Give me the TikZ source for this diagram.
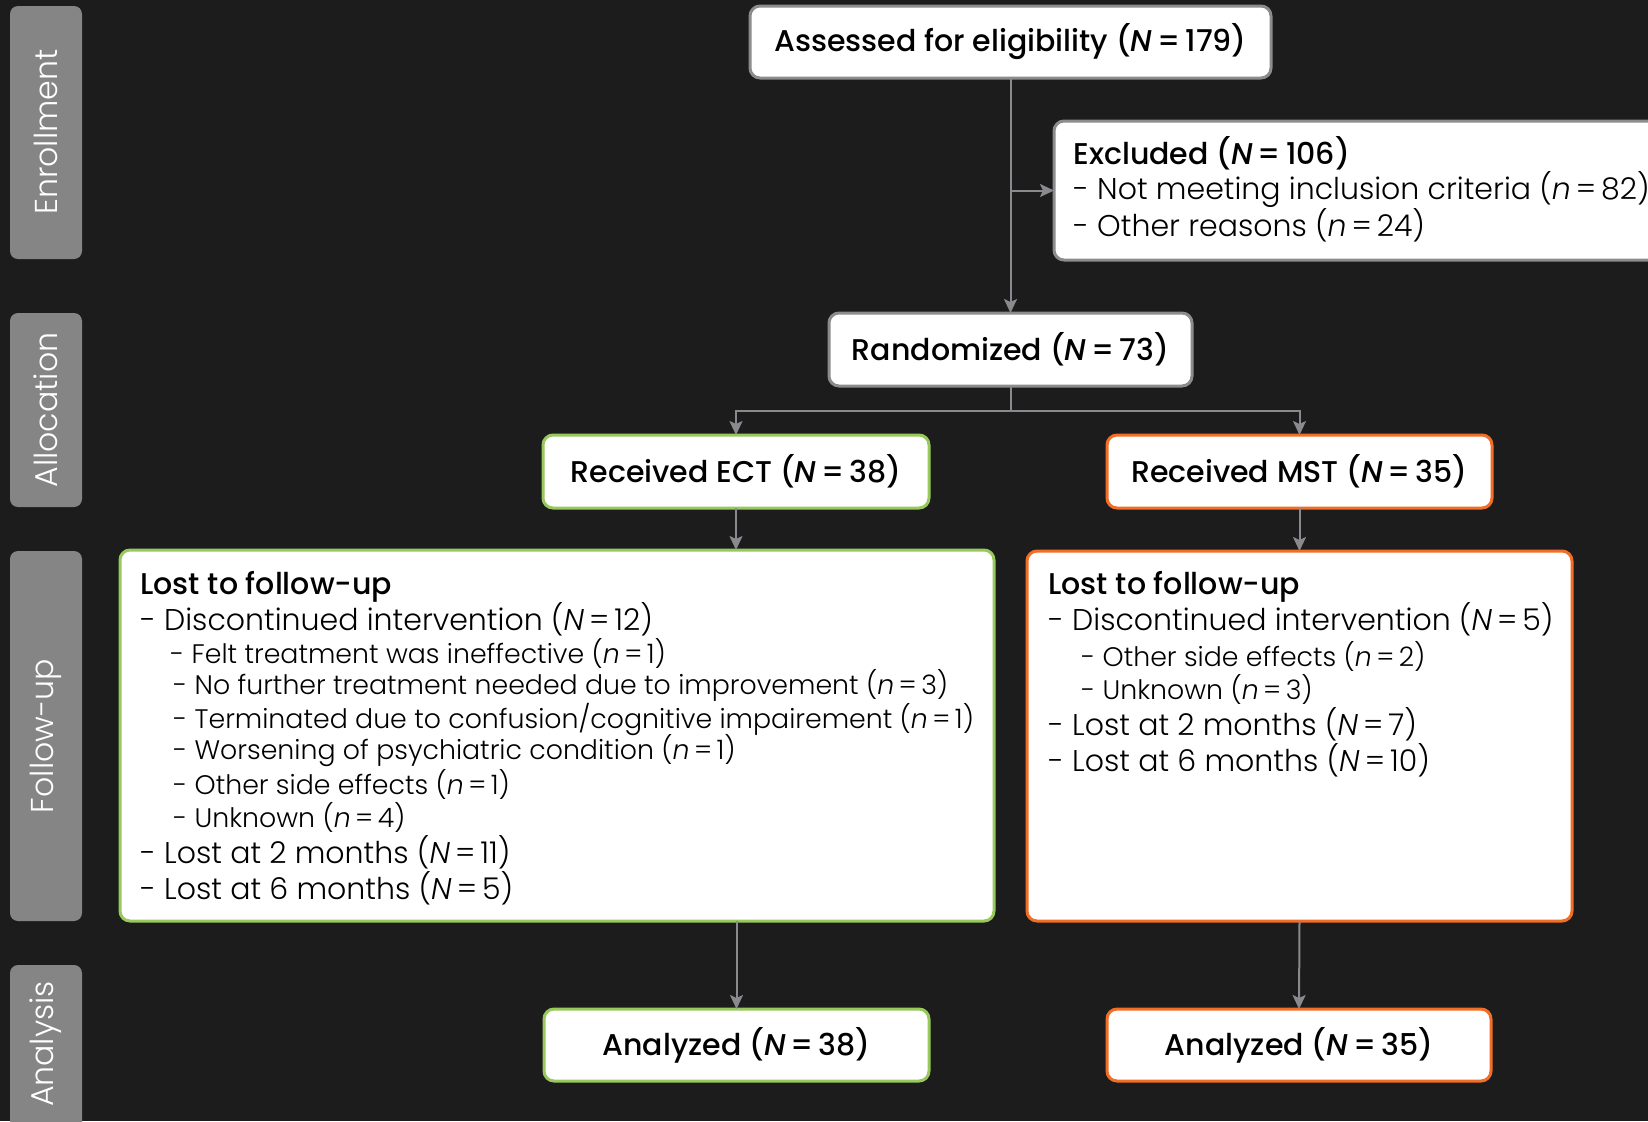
\documentclass[tikz,border=0pt]{standalone}
\usepackage{fontspec}
\setmainfont{Poppins}[UprightFont=* Light, BoldFont=* Medium, ItalicFont=* Light Italic, BoldItalicFont=* Medium Italic]
\usetikzlibrary{arrows.meta}
\definecolor{bg}{HTML}{1C1C1C}
\definecolor{bar}{HTML}{858585}
\definecolor{conn}{HTML}{8A8A8E}
\definecolor{greyline}{HTML}{8C8C8C}
\definecolor{ectgreen}{HTML}{98C95C}
\definecolor{mstorange}{HTML}{F26D25}
\newcommand{\NN}[1]{(\textit{N}\,=\,#1)}
\newcommand{\nn}[1]{(\textit{n}\,=\,#1)}
\tikzset{
  boxbase/.style={draw, fill=white, rounded corners=5pt, line width=1.5pt, inner sep=0pt, outer sep=0pt, text=black},
  greybox/.style={boxbase, draw=greyline},
  greenbox/.style={boxbase, draw=ectgreen},
  orangebox/.style={boxbase, draw=mstorange},
  headfont/.style={font=\fontsize{15}{17}\selectfont\bfseries},
  txt/.style={anchor=west, inner sep=0pt, text=black, font=\fontsize{15}{17}\selectfont},
  subtxt/.style={anchor=west, inner sep=0pt, text=black, font=\fontsize{13.4}{16}\selectfont},
  bold/.style={anchor=west, inner sep=0pt, text=black, font=\fontsize{15}{17}\selectfont\bfseries},
  sidebar/.style={fill=bar, rounded corners=4pt, inner sep=0pt, outer sep=0pt},
  sidetext/.style={rotate=90, text=white, inner sep=0pt, font=\fontsize{15.8}{18}\selectfont},
  conline/.style={draw=conn, line width=1pt},
  arr/.style={conline, -{Stealth[length=7pt, width=6.5pt, inset=1.5pt]}},
}
\begin{document}
\begin{tikzpicture}[x=0.5pt, y=-0.5pt]
\fill[bg] (0,0) rectangle (1648,1121);
\useasboundingbox (0,0) rectangle (1648,1121);
\clip (0,0) rectangle (1648,1121);

% side bars
\node[sidebar, minimum width=36pt, minimum height=126.5pt] (enrbar) at (46,132.5) {};
\node[sidetext] (enrtxt) at (46,132) {Enrollment};
\node[sidebar, minimum width=36pt, minimum height=97pt] (allbar) at (46,410) {};
\node[sidetext] (alltxt) at (46,410) {Allocation};
\node[sidebar, minimum width=36pt, minimum height=185pt] (fubar) at (46,736) {};
\node[sidetext] (futxt) at (46,736) {Follow-up};
\node[sidebar, minimum width=36pt, minimum height=90pt] (anbar) at (46,1055) {};
\node[sidetext] (antxt) at (46,1044) {Analysis};

% main boxes
\node[greybox, headfont, minimum width=260.5pt, minimum height=36pt] (assess) at (1010.5,42) {Assessed for eligibility \NN{179}};
\node[greybox, minimum width=323pt, minimum height=69.5pt] (excl) at (1377,190.5) {};
\node[greybox, headfont, minimum width=181.5pt, minimum height=36.5pt] (rand) at (1010.5,349.5) {Randomized \NN{73}};
\node[greenbox, headfont, minimum width=193pt, minimum height=36.5pt] (ect) at (736,471.5) {Received ECT \NN{38}};
\node[orangebox, headfont, minimum width=192.5pt, minimum height=36.5pt] (mst) at (1299.5,471.5) {Received MST \NN{35}};
\node[greenbox, minimum width=437pt, minimum height=185.5pt] (fuect) at (557,735.5) {};
\node[orangebox, minimum width=272.5pt, minimum height=185pt] (fumst) at (1299.5,736) {};
\node[greenbox, headfont, minimum width=192.5pt, minimum height=36pt] (anect) at (736.5,1045) {Analyzed \NN{38}};
\node[orangebox, headfont, minimum width=192pt, minimum height=36pt] (anmst) at (1299,1045) {Analyzed \NN{35}};

% excluded text
\node[bold] (ex1) at (1073,153) {Excluded \NN{106}};
\node[txt] (ex2) at (1073,189) {- Not meeting inclusion criteria \nn{82}};
\node[txt] (ex3) at (1073,225) {- Other reasons \nn{24}};

% ECT follow-up text
\node[bold] (l1) at (140,587) {Lost to follow-up};
\node[txt] (l2) at (140,619) {- Discontinued intervention \NN{12}};
\node[subtxt] (l3) at (170,653) {- Felt treatment was ineffective \nn{1}};
\node[subtxt] (l4) at (173,685) {- No further treatment needed due to improvement \nn{3}};
\node[subtxt] (l5) at (173,719) {- Terminated due to confusion/cognitive impairement \nn{1}};
\node[subtxt] (l6) at (173,751) {- Worsening of psychiatric condition \nn{1}};
\node[subtxt] (l7) at (173,784) {- Other side effects \nn{1}};
\node[subtxt] (l8) at (173,817) {- Unknown \nn{4}};
\node[txt] (l9) at (140,852) {- Lost at 2 months \NN{11}};
\node[txt] (l10) at (140,888) {- Lost at 6 months \NN{5}};

% MST follow-up text
\node[bold] (r1) at (1048,587) {Lost to follow-up};
\node[txt] (r2) at (1048,619) {- Discontinued intervention \NN{5}};
\node[subtxt] (r3) at (1081,656) {- Other side effects \nn{2}};
\node[subtxt] (r4) at (1081,689) {- Unknown \nn{3}};
\node[txt] (r5) at (1048,724) {- Lost at 2 months \NN{7}};
\node[txt] (r6) at (1048,760) {- Lost at 6 months \NN{10}};

% connectors
\coordinate (junc) at (assess.south |- excl.west);
\draw[arr] (assess.south) -- (rand.north);
\draw[arr] (junc) -- (excl.west);
\coordinate (split) at (1010.5,411);
\draw[conline] (rand.south) -- (split);
\draw[arr] (split) -| (ect.north);
\draw[arr] (split) -| (mst.north);
\draw[arr] (ect.south) -- (ect.south |- fuect.north);
\draw[arr] (mst.south) -- (fumst.north);
\draw[arr] (anect.north |- fuect.south) -- (anect.north);
\draw[arr] (fumst.south) -- (anmst.north);
\end{tikzpicture}
\end{document}
